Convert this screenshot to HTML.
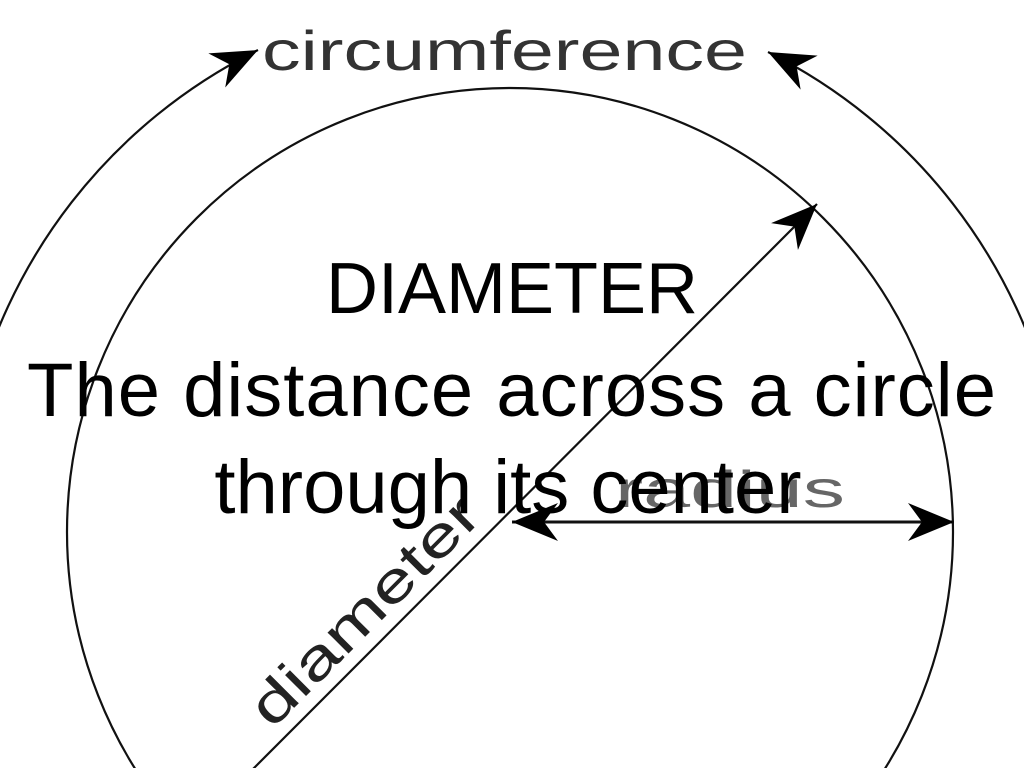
<!DOCTYPE html>
<html><head><meta charset="utf-8"><style>
html,body{margin:0;padding:0;background:#fff;overflow:hidden;width:1024px;height:768px;}
#c{position:relative;width:1024px;height:768px;overflow:hidden;background:#fff;}
svg{position:absolute;left:0;top:0;}
.t{position:absolute;left:0;width:1024px;text-align:center;font-family:"Liberation Sans",sans-serif;color:#000;white-space:nowrap;}
</style></head><body><div id="c">
<svg width="1024" height="768" viewBox="0 0 1024 768">
<defs>
<marker id="ah" viewBox="0 0 50 38" refX="48" refY="19" markerWidth="50" markerHeight="38" markerUnits="userSpaceOnUse" orient="auto">
<path d="M48,19 L2,0 L16,19 L2,38 Z" fill="#000"/>
</marker>
</defs>
<g fill="none" stroke="#111" stroke-width="2.2">
<ellipse cx="510" cy="532" rx="443" ry="444"/>
<path d="M-30,420 A540 540 0 0 1 258,50" marker-end="url(#ah)"/>
<path d="M1054,420 A540 540 0 0 0 768,52" marker-end="url(#ah)"/>
<line x1="252" y1="770" x2="817" y2="204" marker-end="url(#ah)"/>
<line x1="730" y1="522" x2="512" y2="522" stroke-width="3" marker-end="url(#ah)"/>
<line x1="730" y1="522" x2="954" y2="522" stroke-width="3" marker-end="url(#ah)"/>
</g>
<text x="262" y="70" font-family="Liberation Sans, sans-serif" font-size="56" fill="#333" textLength="485" lengthAdjust="spacingAndGlyphs">circumference</text>
<text x="615" y="507" font-family="Liberation Sans, sans-serif" font-size="52" fill="#666" textLength="230" lengthAdjust="spacingAndGlyphs">radius</text>
<text x="0" y="0" font-family="Liberation Sans, sans-serif" font-size="56" fill="#222" textLength="300" lengthAdjust="spacingAndGlyphs" transform="translate(272,730) rotate(-45)">diameter</text>
</svg>
<div class="t" style="top:248px;font-size:72px;">DIAMETER</div>
<div class="t" style="top:347px;font-size:76px;letter-spacing:1px;">The distance across a circle</div>
<div class="t" style="top:444px;font-size:76px;left:-4px;">through its center</div>
</div></body></html>
